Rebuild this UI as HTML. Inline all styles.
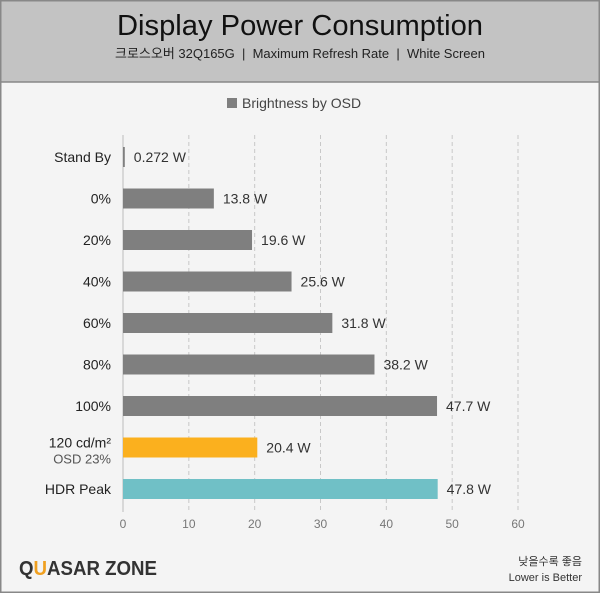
<!DOCTYPE html>
<html><head><meta charset="utf-8"><style>
body{margin:0;width:600px;height:593px;overflow:hidden;font-family:"Liberation Sans","Noto Sans CJK KR",sans-serif}
</style></head><body>
<svg width="600" height="593" xmlns="http://www.w3.org/2000/svg">
<rect x="0" y="0" width="600" height="593" fill="#f4f4f4"/>
<rect x="0" y="0" width="600" height="82" fill="#c3c3c3"/>
<line x1="0" y1="82" x2="600" y2="82" stroke="#888" stroke-width="1.5"/>
<rect x="0.75" y="0.75" width="598.5" height="591.5" fill="none" stroke="#888" stroke-width="1.5"/>
<text x="300" y="35" text-anchor="middle" font-size="29" fill="#111" textLength="366" lengthAdjust="spacingAndGlyphs">Display Power Consumption</text>
<text x="300" y="58" text-anchor="middle" font-size="13" fill="#222" style="white-space:pre">크로스오버 32Q165G  |  Maximum Refresh Rate  |  White Screen</text>
<rect x="227" y="98" width="10" height="10" fill="#7f7f7f"/>
<text x="242" y="108" font-size="14" fill="#444">Brightness by OSD</text>
<g id="plot"></g>
<text x="19" y="575" font-size="20" font-weight="bold" fill="#333" textLength="138" lengthAdjust="spacingAndGlyphs">Q<tspan fill="#f0a020">U</tspan>ASAR ZONE</text>
<text x="582" y="565" text-anchor="end" font-size="11" fill="#333">낮을수록 좋음</text>
<text x="582" y="581" text-anchor="end" font-size="11" fill="#333">Lower is Better</text>
</svg>
<script>
const categories=["Stand By","0%","20%","40%","60%","80%","100%","120 cd/m²","HDR Peak"];
const values=[0.272,13.8,19.6,25.6,31.8,38.2,47.7,20.4,47.8];
const valueLabels=["0.272 W","13.8 W","19.6 W","25.6 W","31.8 W","38.2 W","47.7 W","20.4 W","47.8 W"];
const ticks=[0,10,20,30,40,50,60];
const NS="http://www.w3.org/2000/svg";
const g=document.getElementById('plot');
const x=v=>123+v*(518-123)/60;
const y=i=>157+i*41.5;
function mk(t,a){const e=document.createElementNS(NS,t);for(const k in a)e.setAttribute(k,a[k]);g.appendChild(e);return e;}
ticks.forEach(t=>{
 const l=mk('line',{x1:x(t),x2:x(t),y1:135,y2:512,stroke:t===0?'#bbb':'#c8c8c8','stroke-dasharray':t===0?'':'4,3'});
 
 
 const tx=mk('text',{x:x(t),y:528,'text-anchor':'middle','font-size':12,fill:'#777'});tx.textContent=t;
 
 
});
categories.forEach((c,i)=>{
 const col=i===7?'#fbb01e':i===8?'#70c0c6':'#7f7f7f';
 const r=mk('rect',{x:x(0),y:y(i)-10,width:Math.max(x(values[i])-x(0),1.5),height:20,fill:col});
 
 
 const vl=mk('text',{x:x(values[i])+9,y:y(i)+5,'font-size':14,fill:'#333'});vl.textContent=valueLabels[i];
 
 
 const cl=mk('text',{x:111,y:y(i)+(i===7?0:5),'text-anchor':'end','font-size':14,fill:'#222'});cl.textContent=c;
 
 
 if(i===7){const s=mk('text',{x:111,y:y(i)+16,'text-anchor':'end','font-size':13,fill:'#555'});s.textContent='OSD 23%';
 
 }
});
</script>
</body></html>
